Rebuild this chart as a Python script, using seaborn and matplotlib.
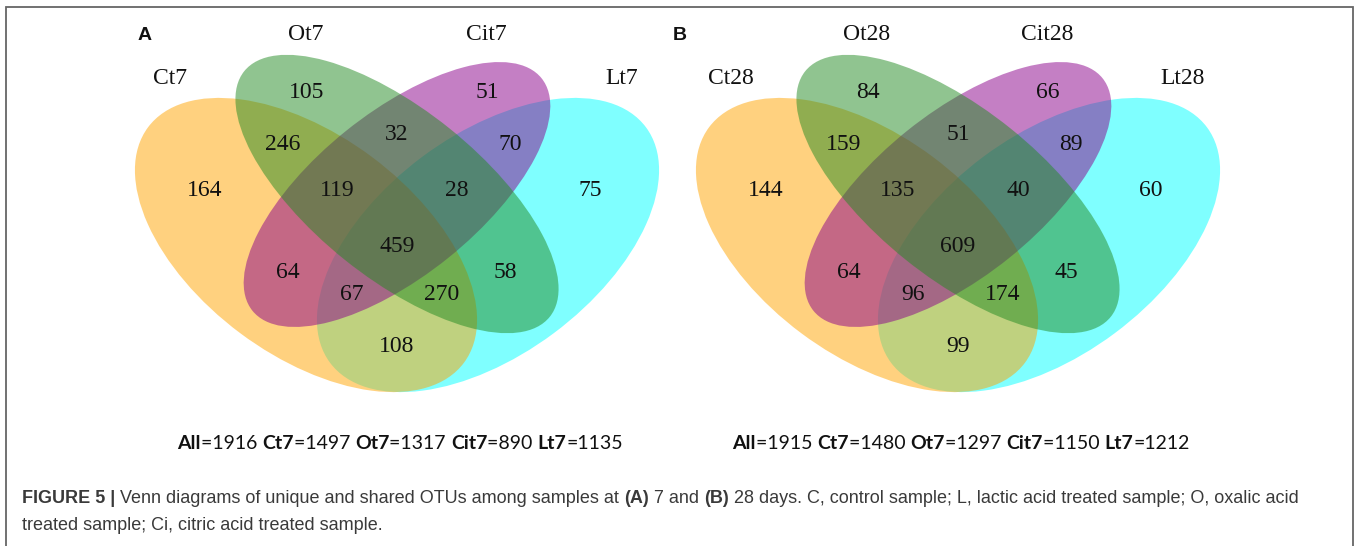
import matplotlib
matplotlib.use("Agg")
import matplotlib.pyplot as plt
from matplotlib.patches import Ellipse
from matplotlib.font_manager import FontProperties
import seaborn as sns

# ---- data -------------------------------------------------------------
set_names_7 = ["Ct7", "Ot7", "Cit7", "Lt7"]
set_names_28 = ["Ct28", "Ot28", "Cit28", "Lt28"]
# the original figure reuses the day-7 names in the B summary line
total_names = ["Ct7", "Ot7", "Cit7", "Lt7"]

# membership of each region, indices into the set lists (0=C, 1=O, 2=Ci, 3=L)
regions = [(0,), (1,), (2,), (3,),
           (0, 1), (1, 2), (2, 3),
           (0, 1, 2), (1, 2, 3), (0, 1, 2, 3),
           (0, 2), (1, 3), (0, 2, 3), (0, 1, 3), (0, 3)]
counts_7 = [164, 105, 51, 75, 246, 32, 70, 119, 28, 459, 64, 58, 67, 270, 108]
counts_28 = [144, 84, 66, 60, 159, 51, 89, 135, 40, 609, 64, 45, 96, 174, 99]

# ---- layout (pixels, relative to the panel centre line) ----------------
# ellipse per set: dx, cy, width, height, angle
ellipses = [(-91, 245, 394, 220, 36.7),
            (0, 194, 392, 168, 38.8),
            (0, 194.5, 371, 163, -38.8),
            (91, 245, 394, 220, -36.7)]
draw_order = [3, 0, 2, 1]
name_pos = [(-227, 79), (-91, 35), (89, 35), (225, 79)]
region_pos = {(0,): (-192, 191), (1,): (-90, 93), (2,): (90, 93), (3,): (193, 191),
              (0, 1): (-114, 145), (1, 2): (0, 134), (2, 3): (113, 145),
              (0, 1, 2): (-60, 191), (1, 2, 3): (60, 191), (0, 1, 2, 3): (0, 247),
              (0, 2): (-109, 273), (1, 3): (108, 273), (0, 2, 3): (-45, 294),
              (0, 1, 3): (45, 294), (0, 3): (0, 347)}

sns.set_theme(style="white")
fills = sns.color_palette(["orange", "forestgreen", "darkmagenta", "cyan"])
plt.rcParams["font.family"] = ["Liberation Sans", "DejaVu Sans"]

fig = plt.figure(figsize=(13.59, 5.46), dpi=100)
ax = fig.add_axes([0, 0, 1, 1])
ax.set_xlim(0, 1359)
ax.set_ylim(546, 0)
ax.axis("off")
renderer = fig.canvas.get_renderer()


def run_width(s, prop):
    w1 = renderer.get_text_width_height_descent(s + "|", prop, ismath=False)[0]
    w2 = renderer.get_text_width_height_descent("|", prop, ismath=False)[0]
    return w1 - w2


def text_runs(x, y, runs, family, size, color, center=False):
    props = [FontProperties(family=family, size=size, weight="bold" if b else "normal")
             for _, b in runs]
    widths = [run_width(s, p) for (s, _), p in zip(runs, props)]
    if center:
        x -= sum(widths) / 2
    for (s, _), p, w in zip(runs, props, widths):
        ax.text(x, y, s, fontproperties=p, color=color, ha="left", va="baseline")
        x += w


def venn_panel(x0, names, counts, letter, letter_x):
    for i in draw_order:
        dx, cy, w, h, ang = ellipses[i]
        ax.add_patch(Ellipse((x0 + dx, cy), w, h, angle=ang,
                             facecolor=fills[i], alpha=0.5, edgecolor="none"))
    for name, (dx, y) in zip(names, name_pos):
        ax.text(x0 + dx, y, name, family="Liberation Serif", fontsize=17,
                ha="center", va="center", color="#111111")
    for reg, n in zip(regions, counts):
        dx, y = region_pos[reg]
        ax.text(x0 + dx, y, str(n), family="Liberation Serif", fontsize=17,
                ha="center", va="center", color="#111111")
    ax.text(letter_x, 35, letter, fontsize=14, weight="bold", ha="center",
            va="center", color="#111111")

    totals = [sum(n for reg, n in zip(regions, counts) if i in reg) for i in range(4)]
    runs = [("All", True), ("=%d " % sum(counts), False)]
    for k, (nm, t) in enumerate(zip(total_names, totals)):
        runs += [(nm, True), ("=%d" % t + (" " if k < 3 else ""), False)]
    text_runs(x0 + 3, 449, runs, "Lato", 14, "#111111", center=True)


venn_panel(397, set_names_7, counts_7, "A", 145)
venn_panel(958, set_names_28, counts_28, "B", 680)

cap = "#3a3a3a"
text_runs(22, 503, [("FIGURE 5 | ", True),
                    ("Venn diagrams of unique and shared OTUs among samples at ", False),
                    ("(A)", True), (" 7 and ", False), ("(B)", True),
                    (" 28 days. C, control sample; L, lactic acid treated sample; O, oxalic acid", False)],
          "Liberation Sans", 13, cap)
text_runs(22, 530, [("treated sample; Ci, citric acid treated sample.", False)],
          "Liberation Sans", 13, cap)

# open-bottomed frame
ax.plot([5.5, 5.5, 1352.5, 1352.5], [560, 6.5, 6.5, 560], color="#666666",
        lw=1.3, clip_on=False, solid_joinstyle="miter")

fig.savefig("out.png", dpi=100)
